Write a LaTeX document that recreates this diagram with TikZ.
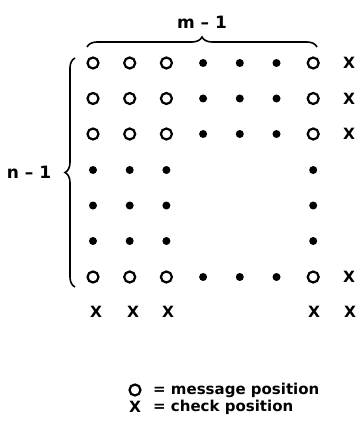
\documentclass[tikz,border=0pt]{standalone}
\usepackage{fontspec}
\setmainfont{DejaVu Sans}
\usetikzlibrary{decorations.pathreplacing}
\tikzset{
  msg/.style={circle, draw, line width=2.2pt, minimum size=11pt, inner sep=0pt},
  bit/.style={circle, fill, minimum size=8pt, inner sep=0pt},
  chk/.style={font=\fontsize{15.5}{18}\selectfont\bfseries, inner sep=0pt},
  lbl/.style={font=\fontsize{17}{20}\selectfont\bfseries, inner sep=0pt},
  leg/.style={font=\fontsize{15}{18}\selectfont\bfseries, inner sep=0pt},
  brc/.style={decorate, decoration={brace, amplitude=10pt}, line width=1.6pt}
}
\begin{document}
\begin{tikzpicture}[x=1pt,y=-1pt]
\useasboundingbox (0,0) rectangle (360,422);
% column and row positions
\def\colA{93}\def\colB{129.7}\def\colC{166.4}\def\colD{203.1}\def\colE{239.8}\def\colF{276.5}\def\colG{313.2}\def\colX{349}
% full rows (0,1,2,6)
\foreach \r/\y in {0/63,1/98.5,2/134,6/277}{
  \node[msg] (m-\r-0) at (\colA,\y) {};
  \node[msg] (m-\r-1) at (\colB,\y) {};
  \node[msg] (m-\r-2) at (\colC,\y) {};
  \node[bit] (b-\r-3) at (\colD,\y) {};
  \node[bit] (b-\r-4) at (\colE,\y) {};
  \node[bit] (b-\r-5) at (\colF,\y) {};
  \node[msg] (m-\r-6) at (\colG,\y) {};
  \node[chk] (x-\r) at (\colX,\y) {X};
}
% middle rows (3,4,5)
\foreach \r/\y in {3/170,4/205.5,5/241}{
  \node[bit] (b-\r-0) at (\colA,\y) {};
  \node[bit] (b-\r-1) at (\colB,\y) {};
  \node[bit] (b-\r-2) at (\colC,\y) {};
  \node[bit] (b-\r-6) at (\colG,\y) {};
}
% bottom check row
\node[chk] (xb-0) at (96,312) {X};
\node[chk] (xb-1) at (133,312) {X};
\node[chk] (xb-2) at (168,312) {X};
\node[chk] (xb-6) at (314,312) {X};
\node[chk] (xb-7) at (350,312) {X};
% braces
\coordinate (tbl) at (87,47);
\coordinate (tbr) at (317,47);
\draw[brc] (tbl) -- (tbr);
\node[lbl] (mlab) at (202,22) {m – 1};
\coordinate (lbb) at (75,287);
\coordinate (lbt) at (75,58);
\draw[brc] (lbb) -- (lbt);
\node[lbl] (nlab) at (29,172) {n – 1};
% legend
\node[msg] (lm) at (135,390) {};
\node[leg, anchor=west] (lmt) at (153,390) {= message position};
\node[chk] (lx) at (135,407) {X};
\node[leg, anchor=west] (lxt) at (153,407) {= check position};
\end{tikzpicture}
\end{document}
